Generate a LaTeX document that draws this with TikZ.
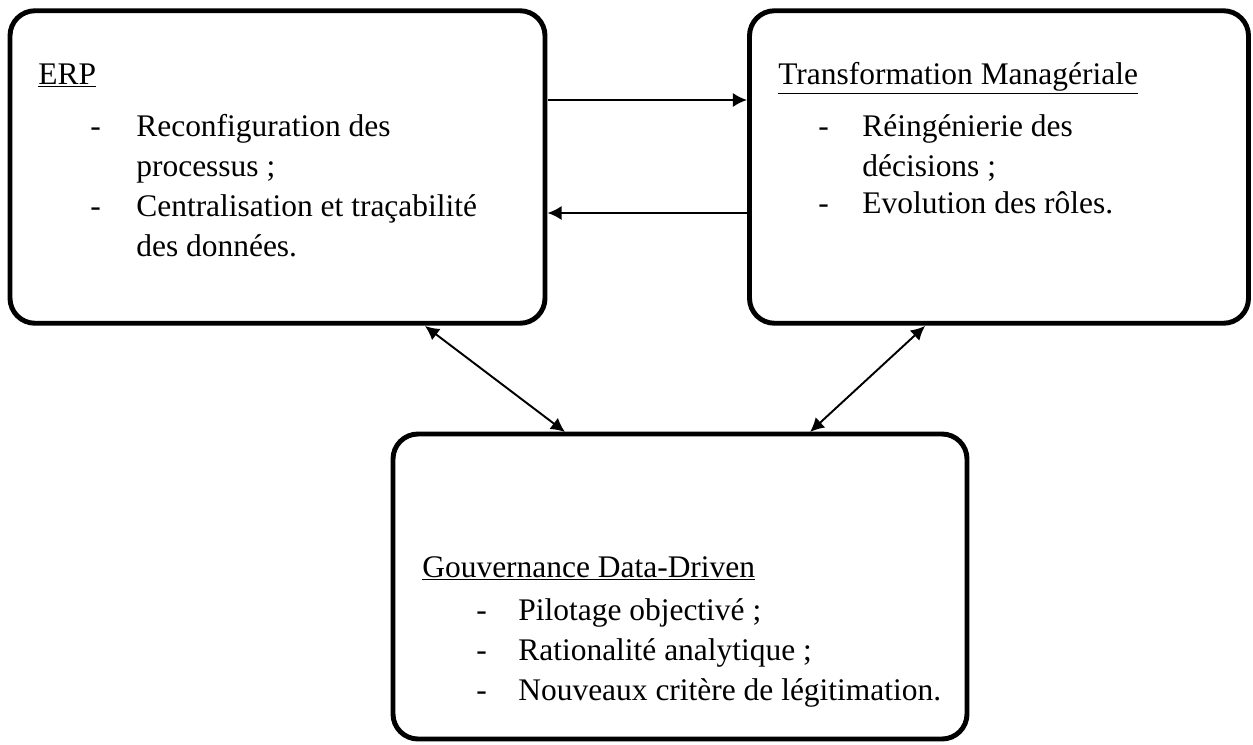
\documentclass[tikz,border=0pt]{standalone}
\usepackage{fontspec}
\setmainfont{Liberation Serif}
\usetikzlibrary{arrows.meta}
\tikzset{
  >={Latex[length=8pt,width=8pt]},
  box/.style={draw, line width=2.8pt, rounded corners=0.5cm, inner sep=0pt},
  txt/.style={anchor=base west, inner sep=0pt, font=\fontsize{17.9}{22}\selectfont},
  link/.style={draw, line width=1.1pt},
}
\begin{document}
\begin{tikzpicture}
\useasboundingbox (0,0) rectangle (25.06,14.88);

\node[box, minimum width=10.7cm, minimum height=6.25cm] (b1) at (5.55,11.54) {};
\node[box, minimum width=9.98cm, minimum height=6.25cm] (b2) at (19.98,11.54) {};
\node[box, minimum width=11.48cm, minimum height=6.1cm] (b3) at (13.6,3.15) {};

\node[txt] (t1) at (0.76,13.2) {\underline{ERP}};
\node[txt] (t2) at (1.8,12.16) {-};
\node[txt] (t3) at (2.72,12.16) {Reconfiguration des};
\node[txt] (t4) at (2.72,11.36) {processus ;};
\node[txt] (t5) at (1.8,10.56) {-};
\node[txt] (t6) at (2.72,10.56) {Centralisation et traçabilité};
\node[txt] (t7) at (2.72,9.76) {des données.};

\node[txt] (t8) at (15.56,13.2) {\underline{Transformation Managériale}};
\node[txt] (t9) at (16.36,12.16) {-};
\node[txt] (t10) at (17.24,12.16) {Réingénierie des};
\node[txt] (t11) at (17.24,11.36) {décisions ;};
\node[txt] (t12) at (16.36,10.62) {-};
\node[txt] (t13) at (17.24,10.62) {Evolution des rôles.};

\node[txt] (t14) at (8.44,3.34) {\underline{Gouvernance Data-Driven}};
\node[txt] (t15) at (9.52,2.48) {-};
\node[txt] (t16) at (10.36,2.48) {Pilotage objectivé ;};
\node[txt] (t17) at (9.52,1.68) {-};
\node[txt] (t18) at (10.36,1.68) {Rationalité analytique ;};
\node[txt] (t19) at (9.52,0.88) {-};
\node[txt] (t20) at (10.36,0.88) {Nouveaux critère de légitimation.};

\coordinate (v1) at (10.95,12.88);
\coordinate (v2) at (14.94,12.88);
\coordinate (v3) at (14.94,10.62);
\coordinate (v4) at (10.95,10.62);
\coordinate (v5) at (8.5,8.36);
\coordinate (v6) at (11.3,6.24);
\coordinate (v7) at (18.5,8.36);
\coordinate (v8) at (16.2,6.24);
\path (v1) edge [link, ->] (v2);
\path (v3) edge [link, ->] (v4);
\path (v5) edge [link, <->] (v6);
\path (v7) edge [link, <->] (v8);
\end{tikzpicture}
\end{document}
